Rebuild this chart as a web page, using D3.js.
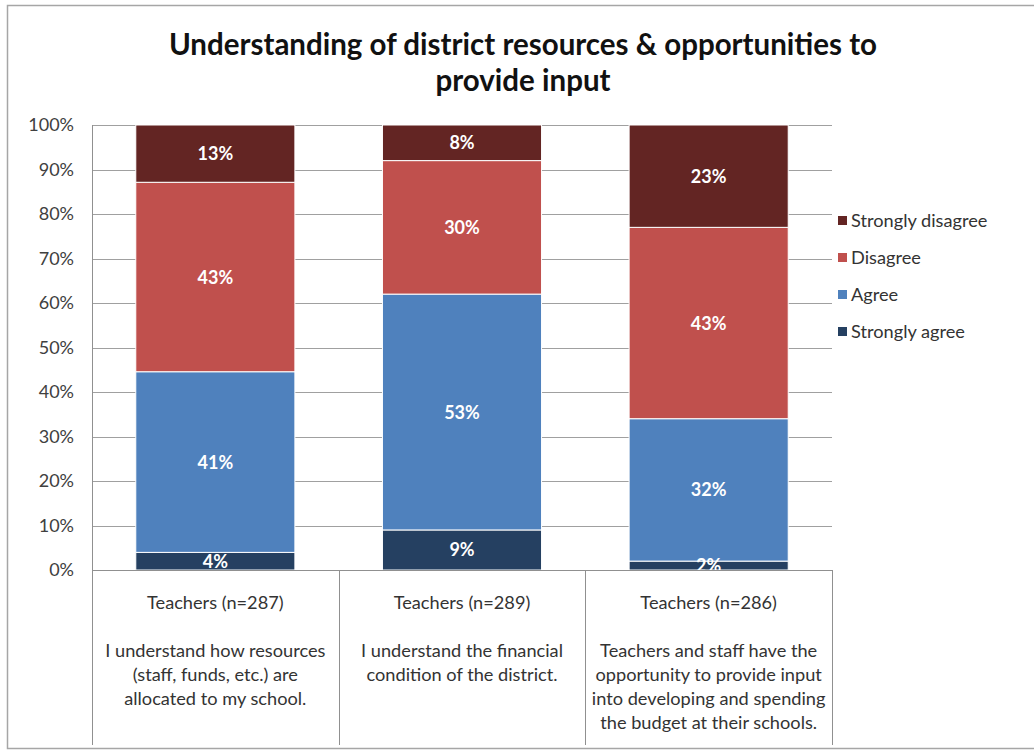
<!DOCTYPE html>
<html><head><meta charset="utf-8">
<script src="https://cdn.jsdelivr.net/npm/d3@7"></script>
<style>
html,body{margin:0;padding:0;background:#fff;}
svg{display:block;font-family:Lato,"Open Sans",sans-serif;}
</style></head>
<body>
<svg id="chart" width="1034" height="751"></svg>
<script>
// ---- data ----
const titleLines = ["Understanding of district resources & opportunities to", "provide input"];
const groups = ["Teachers (n=287)", "Teachers (n=289)", "Teachers (n=286)"];
const questions = [
  ["I understand how resources", "(staff, funds, etc.) are", "allocated to my school."],
  ["I understand the financial", "condition of the district."],
  ["Teachers and staff have the", "opportunity to provide input", "into developing and spending", "the budget at their schools."]
];
const seriesNames = ["Strongly agree", "Agree", "Disagree", "Strongly disagree"];
const stronglyAgree = [4, 9, 2];
const agree = [41, 53, 32];
const disagree = [43, 30, 43];
const stronglyDisagree = [13, 8, 23];
const seriesColors = ["#254061", "#4F81BD", "#C0504D", "#632523"];
const yTicks = [0, 10, 20, 30, 40, 50, 60, 70, 80, 90, 100];

// ---- layout ----
const svg = d3.select("#chart");
const pL = 92, pR = 832, pT = 125, pB = 570, boxBottom = 745;

svg.append("rect").attr("x", 7.5).attr("y", 5.5).attr("width", 1040).attr("height", 743)
  .attr("fill", "#fff").attr("stroke", "#a6a6a6").attr("stroke-width", 1.5);

svg.append("g").selectAll("text").data(titleLines).join("text")
  .attr("x", 523).attr("y", (d, i) => 55 + i * 36)
  .attr("text-anchor", "middle").attr("font-size", 29.5).attr("font-weight", "bold")
  .attr("fill", "#111").text(d => d);

const cats = groups.map((g, i) => i);
const x = d3.scaleBand().domain(cats).range([pL, pR]).paddingInner(0).paddingOuter(0);
const y = d3.scaleLinear().domain([0, 100]).range([pB, pT]);

// gridlines
svg.append("g").selectAll("line").data(yTicks).join("line")
  .attr("x1", pL).attr("x2", pR)
  .attr("y1", d => Math.round(y(d)) + 0.5).attr("y2", d => Math.round(y(d)) + 0.5)
  .attr("stroke", "#a0a0a0").attr("stroke-width", 1);

// y axis labels
const yAxis = d3.axisLeft(y).tickValues(yTicks).tickFormat(d => d + "%").tickSize(0).tickPadding(0);
const ya = svg.append("g").attr("transform", `translate(${pL - 18},0)`).call(yAxis);
ya.select(".domain").remove();
ya.selectAll("text").attr("font-family", "Lato, sans-serif").attr("font-size", 18).attr("fill", "#404040");

// stack
const rows = cats.map(i => ({
  i,
  "Strongly agree": stronglyAgree[i],
  "Agree": agree[i],
  "Disagree": disagree[i],
  "Strongly disagree": stronglyDisagree[i]
}));
const stack = d3.stack().keys(seriesNames).offset(d3.stackOffsetExpand);
const series = stack(rows);

const barW = x.bandwidth() * 0.645;
const bx = i => x(i) + (x.bandwidth() - barW) / 2;

svg.append("defs").append("clipPath").attr("id", "plotclip")
  .append("rect").attr("x", pL).attr("y", pT - 1).attr("width", pR - pL).attr("height", pB - pT + 1);

const gBars = svg.append("g");
series.forEach((s, si) => {
  gBars.selectAll(null).data(s).join("rect")
    .attr("x", d => bx(d.data.i))
    .attr("width", barW)
    .attr("y", d => y(d[1] * 100))
    .attr("height", d => y(d[0] * 100) - y(d[1] * 100))
    .attr("fill", seriesColors[si])
    .attr("stroke", "#fff").attr("stroke-width", 1);
});

const gLab = svg.append("g").attr("clip-path", "url(#plotclip)");
series.forEach((s, si) => {
  gLab.selectAll(null).data(s).join("text")
    .attr("x", d => bx(d.data.i) + barW / 2)
    .attr("y", d => (y(d[0] * 100) + y(d[1] * 100)) / 2 + 6.5)
    .attr("text-anchor", "middle").attr("font-size", 18).attr("font-weight", "bold")
    .attr("fill", "#fff")
    .text(d => d.data[s.key] + "%");
});

// axis lines & category boxes
svg.append("line").attr("x1", pL).attr("x2", pR).attr("y1", pB + 0.5).attr("y2", pB + 0.5)
  .attr("stroke", "#909090");
svg.append("g").selectAll("line").data([0, 1, 2, 3]).join("line")
  .attr("x1", d => Math.round(pL + d * x.bandwidth()) + 0.5)
  .attr("x2", d => Math.round(pL + d * x.bandwidth()) + 0.5)
  .attr("y1", d => d === 0 ? pT : pB).attr("y2", boxBottom)
  .attr("stroke", "#909090");

// category labels
const gCat = svg.append("g");
cats.forEach(i => {
  const cx = x(i) + x.bandwidth() / 2;
  gCat.append("text").attr("x", cx).attr("y", 609).attr("text-anchor", "middle")
    .attr("font-size", 18.2).attr("fill", "#333").text(groups[i]);
  questions[i].forEach((q, qi) => {
    gCat.append("text").attr("x", cx).attr("y", 657 + qi * 24).attr("text-anchor", "middle")
      .attr("font-size", 18.2).attr("fill", "#333").text(q);
  });
});

// legend
const legendOrder = seriesNames.map((n, i) => i).reverse();
const gLeg = svg.append("g");
legendOrder.forEach((si, k) => {
  const ly = 221 + k * 37;
  gLeg.append("rect").attr("x", 838).attr("y", ly - 5).attr("width", 9).attr("height", 9)
    .attr("fill", seriesColors[si]);
  gLeg.append("text").attr("x", 851).attr("y", ly + 6).attr("font-size", 18.2)
    .attr("fill", "#333").text(seriesNames[si]);
});
</script>
</body></html>
